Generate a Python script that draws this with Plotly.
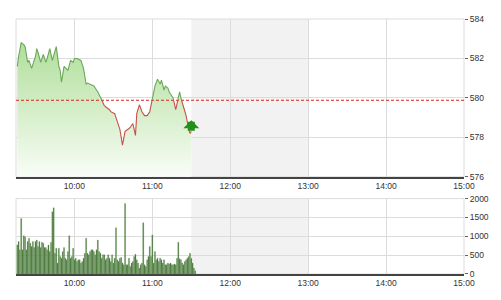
import pandas as pd
import plotly.graph_objects as go

DAY = "2014-06-10 "

# price series (time, index value)
price_times = ["09:16", "09:17", "09:19", "09:21", "09:22", "09:24", "09:25", "09:27", "09:30",
               "09:31", "09:32", "09:34", "09:36", "09:38", "09:39", "09:41", "09:43", "09:44",
               "09:46", "09:48", "09:49", "09:50", "09:52", "09:55", "09:57", "09:59", "10:00",
               "10:02", "10:05", "10:07", "10:09", "10:10", "10:12", "10:15", "10:17", "10:18",
               "10:21", "10:23", "10:25", "10:27", "10:28", "10:31", "10:33", "10:35", "10:37",
               "10:39", "10:41", "10:43", "10:45", "10:47", "10:48", "10:50", "10:52", "10:54",
               "10:56", "10:58", "11:00", "11:02", "11:04", "11:06", "11:07", "11:09", "11:10",
               "11:12", "11:13", "11:16", "11:18", "11:21", "11:22", "11:24", "11:26", "11:28",
               "11:29", "11:30"]
price_values = [581.6, 582.1, 582.8, 582.7, 582.6, 581.8, 581.9, 581.5, 582.1,
                582.5, 582.3, 581.8, 582.2, 581.8, 582.0, 582.5, 581.9, 582.1,
                582.6, 581.6, 581.4, 580.8, 581.6, 581.4, 581.9, 581.8, 582.0,
                582.0, 581.9, 581.5, 580.7, 580.75, 580.7, 580.6, 580.4, 580.3,
                579.9, 579.6, 579.5, 579.4, 579.3, 579.2, 578.8, 578.4, 577.6,
                578.3, 578.4, 578.5, 578.7, 578.1, 579.2, 579.65, 579.3, 579.1,
                579.1, 579.3, 579.95, 580.6, 580.95, 580.7, 580.9, 580.4, 580.6,
                580.5, 580.3, 580.0, 579.4, 580.3, 580.0, 579.5, 579.1,
                578.4, 578.2, 578.3]
reference_value = 579.88

# one-minute volume bars starting 09:16
volume = [772, 859, 640, 1473, 640, 1017, 991, 640, 859, 947, 816, 728, 859, 702, 859,
          903, 728, 859, 702, 842, 816, 702, 702, 640, 772, 596, 842, 1649, 1754, 553,
          684, 289, 684, 465, 421, 596, 702, 421, 377, 596, 1017, 421, 465, 684, 377,
          421, 333, 377, 377, 289, 333, 421, 553, 947, 553, 509, 596, 640, 640, 596,
          509, 640, 903, 596, 553, 421, 509, 509, 377, 421, 509, 421, 333, 509, 289,
          421, 1228, 377, 333, 421, 438, 289, 246, 1868, 246, 246, 421, 202, 289, 333,
          465, 526, 377, 289, 158, 246, 289, 1359, 246, 202, 377, 465, 728, 465, 1035,
          289, 596, 377, 421, 333, 421, 377, 289, 377, 246, 246, 289, 263, 289, 246,
          246, 263, 246, 421, 842, 403, 377, 289, 246, 333, 377, 421, 465, 553, 421,
          289, 158, 88]
volume_start = "09:16"

x_start, x_end = "09:15", "15:00"
lunch_start, lunch_end = "11:30", "13:00"
hour_ticks = ["10:00", "11:00", "12:00", "13:00", "14:00", "15:00"]
price_ticks = [576, 578, 580, 582, 584]
volume_ticks = [0, 500, 1000, 1500, 2000]
arrow_tip_value = 578.87

GREEN_LINE = "#6aa85a"
RED_LINE = "#c8504a"
GRID = "#dcdcdc"
FONT = dict(family="Liberation Sans, Arial, sans-serif", size=8.5, color="#333333")

pt = pd.to_datetime([DAY + t for t in price_times])
vt = pd.date_range(DAY + volume_start, periods=len(volume), freq="min")


def split_by_ref(times, vals, ref):
    gx, gy, rx, ry = [], [], [], []
    for i in range(len(vals)):
        v = vals[i]
        if i > 0:
            v0 = vals[i - 1]
            if (v0 - ref) * (v - ref) < 0:
                f = (ref - v0) / (v - v0)
                tc = times[i - 1] + (times[i] - times[i - 1]) * f
                gx.append(tc); gy.append(ref)
                rx.append(tc); ry.append(ref)
                if v >= ref:
                    rx.append(None); ry.append(None)
                else:
                    gx.append(None); gy.append(None)
        if v >= ref:
            gx.append(times[i]); gy.append(v)
        else:
            rx.append(times[i]); ry.append(v)
    return gx, gy, rx, ry


gx, gy, rx, ry = split_by_ref(list(pt), price_values, reference_value)

fig = go.Figure()

# gradient area under price
fig.add_trace(go.Scatter(
    x=pt, y=price_values, mode="lines", line=dict(width=0),
    fill="tozeroy",
    fillgradient=dict(type="vertical", start=576, stop=583,
                      colorscale=[[0, "rgba(250,253,248,1)"], [1, "rgba(175,222,152,1)"]]),
    hoverinfo="skip", xaxis="x", yaxis="y", showlegend=False))

# reference line
fig.add_trace(go.Scatter(
    x=[pd.Timestamp(DAY + x_start), pd.Timestamp(DAY + x_end)],
    y=[reference_value, reference_value], mode="lines",
    line=dict(color="#e02020", width=1, dash="3px,2px"),
    xaxis="x", yaxis="y", showlegend=False))

fig.add_trace(go.Scatter(x=gx, y=gy, mode="lines", line=dict(color=GREEN_LINE, width=1.1),
                         connectgaps=False, xaxis="x", yaxis="y", showlegend=False))
fig.add_trace(go.Scatter(x=rx, y=ry, mode="lines", line=dict(color=RED_LINE, width=1.1),
                         connectgaps=False, xaxis="x", yaxis="y", showlegend=False))

# volume bars
fig.add_trace(go.Bar(x=vt, y=volume, marker=dict(color="#3b6a2c", line=dict(color="#86ad78", width=0.3)),
                     xaxis="x2", yaxis="y2", showlegend=False))

# trend arrow
fig.add_annotation(x=pd.Timestamp(DAY + lunch_start), y=arrow_tip_value,
                   xref="x", yref="y", text="", showarrow=True,
                   ax=0, ay=12, axref="pixel", ayref="pixel",
                   arrowhead=1, arrowsize=0.38, arrowwidth=7, arrowcolor="#23901a")

x_range = [DAY + x_start, DAY + x_end]
tickvals = [DAY + t for t in hour_ticks]

axis_common = dict(type="date", range=x_range, tickvals=tickvals, tickformat="%H:%M",
                   showgrid=True, gridcolor=GRID, gridwidth=1, showline=True,
                   linecolor="#444444", linewidth=2, ticks="", zeroline=False,
                   tickfont=FONT, fixedrange=True)

fig.update_layout(
    width=501, height=300,
    margin=dict(l=16, r=31, t=19, b=24),
    paper_bgcolor="white", plot_bgcolor="white",
    bargap=0.15,
    xaxis=dict(anchor="y", domain=[0, 1], **axis_common),
    xaxis2=dict(anchor="y2", domain=[0, 1], **axis_common),
    yaxis=dict(domain=[0.3813, 1], range=[576, 584], tickvals=price_ticks, side="right",
               showgrid=True, gridcolor=GRID, zeroline=False, ticks="outside", ticklen=3,
               tickcolor="#666666", tickfont=FONT, showline=False),
    yaxis2=dict(domain=[0, 0.2957], range=[0, 2000], tickvals=volume_ticks, side="right",
                showgrid=True, gridcolor=GRID, zeroline=False, ticks="outside", ticklen=3,
                tickcolor="#666666", tickfont=FONT, showline=False),
    shapes=[
        dict(type="rect", xref="x", yref="y domain", x0=DAY + lunch_start, x1=DAY + lunch_end,
             y0=0, y1=1, fillcolor="#f2f2f2", line=dict(width=0), layer="below"),
        dict(type="rect", xref="x2", yref="y2 domain", x0=DAY + lunch_start, x1=DAY + lunch_end,
             y0=0, y1=1, fillcolor="#f2f2f2", line=dict(width=0), layer="below"),
        dict(type="rect", xref="x domain", yref="y domain", x0=0, x1=1, y0=0, y1=1,
             line=dict(color=GRID, width=1), layer="below"),
        dict(type="rect", xref="x2 domain", yref="y2 domain", x0=0, x1=1, y0=0, y1=1,
             line=dict(color=GRID, width=1), layer="below"),
    ],
)

fig.write_html("out.html")
